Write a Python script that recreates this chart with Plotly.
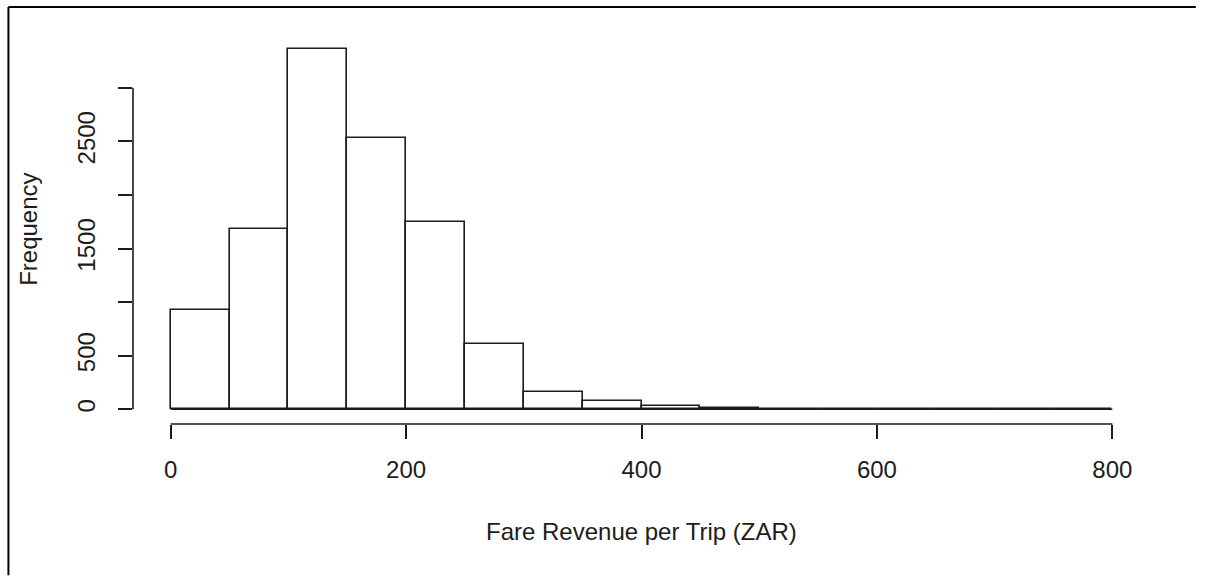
import plotly.graph_objects as go

# Histogram of fare revenue per trip: bin edges (ZAR) and counts per bin
bin_edges = [0, 50, 100, 150, 200, 250, 300, 350, 400, 450, 500, 550, 600, 650, 700, 750, 800]
bin_counts = [925, 1680, 3360, 2530, 1750, 605, 163, 73, 33, 15, 4, 2, 1, 1, 0, 1]

x_ticks = [0, 200, 400, 600, 800]
y_ticks = [0, 500, 1000, 1500, 2000, 2500, 3000]
y_tick_text = ["0", "500", "", "1500", "", "2500", ""]

x_title = "Fare Revenue per Trip (ZAR)"
y_title = "Frequency"

INK = "#1c1c1c"
FONT = "Liberation Sans, Arial, sans-serif"

mids = [(a + b) / 2 for a, b in zip(bin_edges[:-1], bin_edges[1:])]
widths = [b - a for a, b in zip(bin_edges[:-1], bin_edges[1:])]

fig = go.Figure()
fig.add_trace(go.Bar(
    x=mids, y=bin_counts, width=widths,
    marker=dict(color="white", line=dict(color=INK, width=1.6)),
    hoverinfo="x+y", showlegend=False,
))

shapes = [
    # bar baseline across all bins
    dict(type="line", xref="x", yref="y", x0=bin_edges[0], x1=bin_edges[-1], y0=0, y1=0,
         line=dict(color=INK, width=1.6)),
    # x axis line spanning the tick range
    dict(type="line", xref="x", yref="paper", x0=x_ticks[0], x1=x_ticks[-1], y0=0, y1=0,
         line=dict(color=INK, width=1.6)),
    # y axis line spanning the tick range
    dict(type="line", xref="paper", yref="y", x0=0, x1=0, y0=y_ticks[0], y1=y_ticks[-1],
         line=dict(color=INK, width=1.6)),
    # outer frame: top and left edges
    dict(type="line", xref="paper", yref="paper", x0=-0.1225, x1=1.045, y0=1.072, y1=1.072,
         line=dict(color="black", width=2)),
    dict(type="line", xref="paper", yref="paper", x0=-0.1225, x1=-0.1225, y0=-0.389, y1=1.072,
         line=dict(color="black", width=2)),
]

fig.update_layout(
    width=1212, height=576,
    margin=dict(l=133, r=62, t=35, b=152),
    paper_bgcolor="white", plot_bgcolor="white",
    font=dict(family=FONT, size=24, color=INK),
    bargap=0,
    shapes=shapes,
    xaxis=dict(
        range=[-32, 832], tickvals=x_ticks, ticktext=[str(v) for v in x_ticks],
        ticks="outside", ticklen=14, tickwidth=1.6, tickcolor=INK,
        ticklabelstandoff=10,
        showline=False, showgrid=False, zeroline=False,
        tickfont=dict(size=24, color=INK, family=FONT),
    ),
    yaxis=dict(
        range=[-137, 3492], tickvals=y_ticks, ticktext=y_tick_text,
        ticks="outside", ticklen=14, tickwidth=1.6, tickcolor=INK, tickangle=-90,
        ticklabelstandoff=13,
        showline=False, showgrid=False, zeroline=False,
        tickfont=dict(size=24, color=INK, family=FONT),
    ),
    annotations=[
        dict(text=x_title, xref="paper", yref="paper", x=0.5, y=-0.277,
             xanchor="center", yanchor="middle", showarrow=False,
             font=dict(size=24, color=INK, family=FONT)),
        dict(text=y_title, xref="paper", yref="paper", x=-0.1029, y=0.5,
             xanchor="center", yanchor="middle", showarrow=False, textangle=-90,
             font=dict(size=24, color=INK, family=FONT)),
    ],
)

fig.write_html("out.html", config={"displayModeBar": False})
